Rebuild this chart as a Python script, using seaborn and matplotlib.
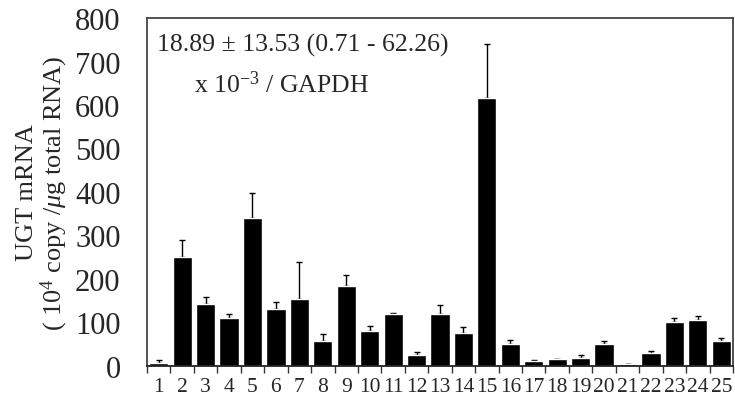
import numpy as np
import pandas as pd
import matplotlib
matplotlib.use("Agg")
import matplotlib.pyplot as plt
import seaborn as sns
from matplotlib.ticker import FixedLocator

samples = [str(i) for i in range(1, 26)]
values = [8, 251, 142, 111, 340, 131, 154, 58, 183, 81,
          119, 25, 119, 77, 615, 51, 12, 15, 18, 51,
          5, 31, 101, 106, 57]
errors = [5, 39, 17, 8, 57, 15, 86, 16, 26, 10,
          2, 8, 21, 12, 125, 9, 2, 2, 7, 7,
          0, 4, 9, 10, 7]
y_ticks = [0, 100, 200, 300, 400, 500, 600, 700, 800]
y_label = "UGT mRNA\n( 10$^4$ copy /$\\mu$g total RNA)"
note1 = "18.89 \u00b1 13.53 (0.71 - 62.26)"
note2 = "x 10$^{-3}$ / GAPDH"

sns.set_style("white")
plt.rcParams['font.family'] = ['Liberation Serif', 'DejaVu Serif']
plt.rcParams['mathtext.fontset'] = 'custom'
plt.rcParams['mathtext.rm'] = 'Liberation Serif'
plt.rcParams['mathtext.it'] = 'Liberation Serif:italic'
plt.rcParams['mathtext.bf'] = 'Liberation Serif:bold'

df = pd.DataFrame({"sample": samples, "value": values, "err": errors})

fig = plt.figure(figsize=(7.35, 4.02), dpi=100)
ax = fig.add_axes([147/735, 35/402, 586/735, 348/402])

sns.barplot(data=df, x="sample", y="value", order=samples, color="black",
            saturation=1, width=0.82, ax=ax, errorbar=None, zorder=2)

centers = [p.get_x() + p.get_width() / 2 for p in ax.patches]
ax.errorbar(centers, df["value"], yerr=[np.zeros(len(df)), df["err"]],
            fmt="none", ecolor="black", elinewidth=1.0, capsize=2.2,
            capthick=1.0, zorder=1)

ax.set_ylim(0, 800)
ax.set_xlim(-0.5, len(samples) - 0.5)
ax.set_yticks(y_ticks)
ax.yaxis.set_minor_locator(FixedLocator([0, 800]))
ax.tick_params(axis="y", which="major", length=0, pad=19, labelsize=22)
ax.tick_params(axis="y", which="minor", length=8, width=1.2, color="#333333",
               direction="out", left=True)
ax.xaxis.set_minor_locator(FixedLocator(np.arange(-0.5, len(samples), 1.0)))
ax.tick_params(axis="x", which="major", length=0, pad=8, labelsize=15.5)
ax.tick_params(axis="x", which="minor", length=5, width=1.0, color="#333333",
               direction="out", bottom=True)

ax.set_xlabel("")
ax.set_ylabel(y_label, fontsize=19, linespacing=1.0, labelpad=4)

for side in ["top", "right", "left"]:
    ax.spines[side].set_color("#444444")
    ax.spines[side].set_linewidth(1.3)
ax.spines["bottom"].set_color("#222222")
ax.spines["bottom"].set_linewidth(1.3)

ax.text((157-147)/586, (367-52)/348, note1, transform=ax.transAxes,
        fontsize=18.5, ha="left", va="baseline")
ax.text((194-147)/586, (367-93)/348, note2, transform=ax.transAxes,
        fontsize=18.5, ha="left", va="baseline")

fig.savefig("out.png", dpi=100)
